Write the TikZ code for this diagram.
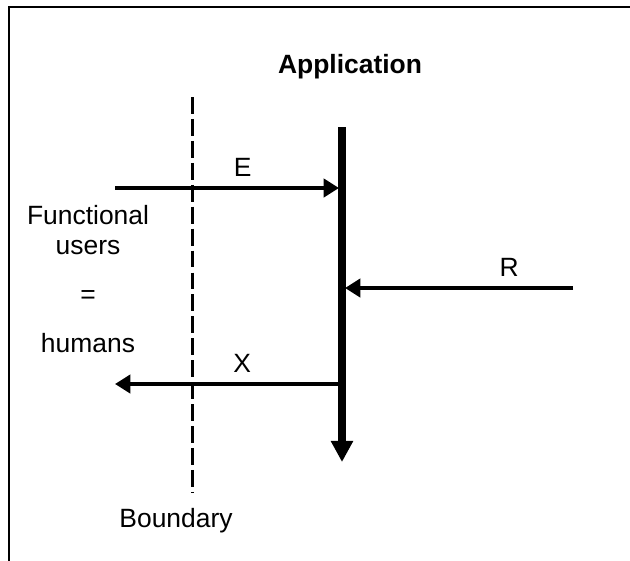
\documentclass[tikz,border=0pt]{standalone}
\usepackage{fontspec}
\setmainfont{Liberation Sans}
\usetikzlibrary{positioning,arrows.meta}

\begin{document}
\begin{tikzpicture}[x=0.025cm, y=-0.025cm, every node/.style={font=\fontsize{18.8}{22}\selectfont, inner sep=0pt}]
  % flow arrows, the application line and the boundary
  \tikzset{flow/.style={line width=2.7pt, -{Triangle[length=11pt, width=13pt]}},
           appline/.style={line width=5.6pt, -{Triangle[length=15pt, width=15pt]}},
           boundary/.style={line width=2.4pt, dash pattern=on 12pt off 3.6pt}}

  % frame (only top and left edges show)
  \clip (0,0) rectangle (630,560);
  \draw[line width=2pt] (9,7) rectangle (680,620);

  % coordinates
  \coordinate (btop) at (192.5,97);
  \coordinate (bbot) at (192.5,492);
  \coordinate (atop) at (342,127);
  \coordinate (abot) at (342,462);
  \coordinate (ein) at (115,188);
  \coordinate (eend) at (339,188);
  \coordinate (rin) at (573,288);
  \coordinate (rend) at (345,288);
  \coordinate (xin) at (342,384);
  \coordinate (xend) at (115,384);

  % texts
  \node (app) at (350,67) {\bfseries Application};
  \node (func) at (88,215) {Functional};
  \node (users) at (88,248) {users};
  \node (eq) at (88,297) {=};
  \node (hum) at (88,343) {humans};
  \node (bnd) at (176,521) {Boundary};

  % lines
  \draw[boundary] (btop) -- (bbot);
  \draw[appline] (atop) -- (abot);
  \draw[flow] (ein) -- (eend) node[pos=0.57, above=7pt] (elab) {E};
  \draw[flow] (rin) -- (rend) node[pos=0.28, above=7pt] (rlab) {R};
  \draw[flow] (xin) -- (xend) node[pos=0.44, above=7pt] (xlab) {X};
\end{tikzpicture}
\end{document}
